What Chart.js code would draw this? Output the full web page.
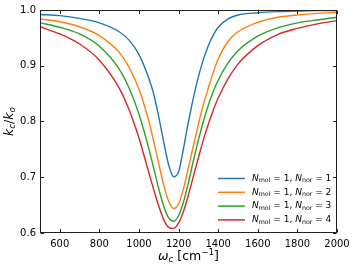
<!DOCTYPE html>
<html><head><meta charset="utf-8">
<script src="https://cdn.jsdelivr.net/npm/chart.js@4.4.0/dist/chart.umd.min.js"></script>
<style>html,body{margin:0;padding:0;background:#fff;overflow:hidden}#wrap{position:relative;width:357px;height:269px}</style>
</head><body><div id="wrap"><canvas id="c" width="357" height="269"></canvas></div>
<script>
// wavenumber omega_c [cm^-1]
const omega = [500,600,700,800,900,950,1000,1050,1075,1100,1125,1150,1175,1200,1225,1250,1275,1300,1325,1350,1375,1400,1450,1500,1600,1700,1800,1900,2000];
// k_c/k_o for N_mol = 1 and N_nor = 1..4
const kNor1 = [0.992,0.990,0.985,0.977,0.961,0.946,0.920,0.877,0.848,0.808,0.763,0.722,0.701,0.710,0.752,0.800,0.843,0.880,0.911,0.936,0.955,0.969,0.984,0.991,0.995,0.997,0.998,0.999,0.999];
const kNor2 = [0.984,0.979,0.970,0.954,0.924,0.897,0.858,0.800,0.763,0.724,0.686,0.657,0.644,0.652,0.680,0.718,0.757,0.795,0.830,0.860,0.888,0.912,0.944,0.961,0.978,0.987,0.991,0.994,0.996];
const kNor3 = [0.977,0.969,0.957,0.935,0.894,0.860,0.813,0.751,0.715,0.679,0.648,0.627,0.621,0.631,0.656,0.691,0.730,0.767,0.800,0.829,0.854,0.874,0.905,0.927,0.953,0.968,0.977,0.982,0.987];
const kNor4 = [0.970,0.957,0.939,0.910,0.860,0.821,0.770,0.708,0.677,0.648,0.624,0.610,0.608,0.618,0.639,0.669,0.702,0.735,0.767,0.795,0.820,0.842,0.877,0.903,0.936,0.956,0.967,0.975,0.981];
const nMol = [1,1,1,1];
const nNor = [1,2,3,4];
const xTicks = [600,800,1000,1200,1400,1600,1800,2000];
const yTicks = [0.6,0.7,0.8,0.9,1.0];

const series = [kNor1,kNor2,kNor3,kNor4];
const colors = ['#1f77b4','#ff7f0e','#2ca02c','#d62728'];
const FONT = 'DejaVu Sans';

function richWidth(ctx, parts, base){
  let w=0;
  for(const p of parts){
    const sz = (p.sub||p.sup)? base*0.7 : base;
    ctx.font = (p.i?'italic ':'')+sz+'px "'+FONT+'"';
    w += ctx.measureText(p.t).width;
  }
  return w;
}
function drawRich(ctx, parts, x, y, base){
  for(const p of parts){
    const sz = (p.sub||p.sup)? base*0.7 : base;
    ctx.font = (p.i?'italic ':'')+sz+'px "'+FONT+'"';
    let dy = 0;
    if(p.sub) dy = base*0.22;
    if(p.sup) dy = -base*0.38;
    ctx.fillText(p.t, x, y+dy);
    x += ctx.measureText(p.t).width;
  }
  return x;
}

const decor = {
  id:'decor',
  afterDraw(chart){
    const ctx = chart.ctx, a = chart.chartArea;
    const xs = chart.scales.x, ys = chart.scales.y;
    ctx.save();
    ctx.strokeStyle = '#222'; ctx.lineWidth = 1;
    const L = Math.round(a.left)+0.5, R = Math.round(a.right)-0.5, T = Math.round(a.top)+0.5, B = Math.round(a.bottom)-0.5;
    ctx.strokeRect(L, T, R-L, B-T);
    const tl = 3.5;
    ctx.beginPath();
    for(const v of xTicks){
      const px = Math.round(xs.getPixelForValue(v))+0.5;
      ctx.moveTo(px, B); ctx.lineTo(px, B-tl);
      ctx.moveTo(px, T); ctx.lineTo(px, T+tl);
    }
    for(const v of yTicks){
      const py = Math.round(ys.getPixelForValue(v))+0.5;
      ctx.moveTo(L, py); ctx.lineTo(L+tl, py);
      ctx.moveTo(R, py); ctx.lineTo(R-tl, py);
    }
    ctx.stroke();

    ctx.fillStyle = '#000';
    ctx.textBaseline = 'middle'; ctx.textAlign = 'left';
    // x title
    const xt = [{t:'\u03C9',i:true},{t:'c',i:true,sub:true},{t:' [cm'},{t:'\u22121',sup:true},{t:']'}];
    const xb = 12.5;
    const xw = richWidth(ctx, xt, xb);
    drawRich(ctx, xt, (a.left+a.right)/2 - xw/2, 257, xb);
    // y title
    const yt = [{t:'k',i:true},{t:'c',i:true,sub:true},{t:'/'},{t:'k',i:true},{t:'o',i:true,sub:true}];
    const yw = richWidth(ctx, yt, xb);
    ctx.save();
    ctx.translate(10, (a.top+a.bottom)/2);
    ctx.rotate(-Math.PI/2);
    drawRich(ctx, yt, -yw/2, 0, xb);
    ctx.restore();

    // legend
    const lb = 9;
    const x0 = a.right - 119, y0 = a.top + 168.5, dy = 13.8;
    for(let k=0;k<series.length;k++){
      const yy = y0 + k*dy;
      ctx.strokeStyle = colors[k]; ctx.lineWidth = 1.5;
      ctx.beginPath(); ctx.moveTo(x0, yy); ctx.lineTo(x0+27, yy); ctx.stroke();
      ctx.fillStyle = '#000';
      const parts = [{t:'N',i:true},{t:'mol',sub:true},{t:' = '+nMol[k]+', '},{t:'N',i:true},{t:'nor',sub:true},{t:' = '+nNor[k]}];
      drawRich(ctx, parts, x0+34, yy, lb);
    }
    ctx.restore();
  }
};

new Chart(document.getElementById('c'), {
  type:'line',
  data:{
    datasets: series.map((s,k)=>({
      label:'N_mol = '+nMol[k]+', N_nor = '+nNor[k],
      data: omega.map((x,i)=>({x:x, y:s[i]})),
      borderColor: colors[k], backgroundColor: colors[k],
      borderWidth: 1.4, pointRadius: 0, fill:false,
      cubicInterpolationMode:'monotone'
    }))
  },
  options:{
    responsive:false, animation:false, devicePixelRatio:1,
    layout:{padding:{left:0, right:20, top:10, bottom:0}},
    plugins:{legend:{display:false}, tooltip:{enabled:false}},
    scales:{
      x:{type:'linear', min:500, max:2000,
        afterBuildTicks:s=>{s.ticks = xTicks.map(v=>({value:v}));},
        afterFit:s=>{s.height = 36;},
        grid:{display:false, drawTicks:false}, border:{display:false},
        ticks:{font:{family:FONT, size:10}, color:'#000', padding:5, maxRotation:0, autoSkip:false, callback:v=>String(v)}
      },
      y:{type:'linear', min:0.6, max:1.0,
        afterBuildTicks:s=>{s.ticks = yTicks.map(v=>({value:v}));},
        afterFit:s=>{s.width = 40;},
        grid:{display:false, drawTicks:false}, border:{display:false},
        ticks:{font:{family:FONT, size:10}, color:'#000', padding:4, callback:v=>Number(v).toFixed(1)}
      }
    }
  },
  plugins:[decor]
});
</script></body></html>
